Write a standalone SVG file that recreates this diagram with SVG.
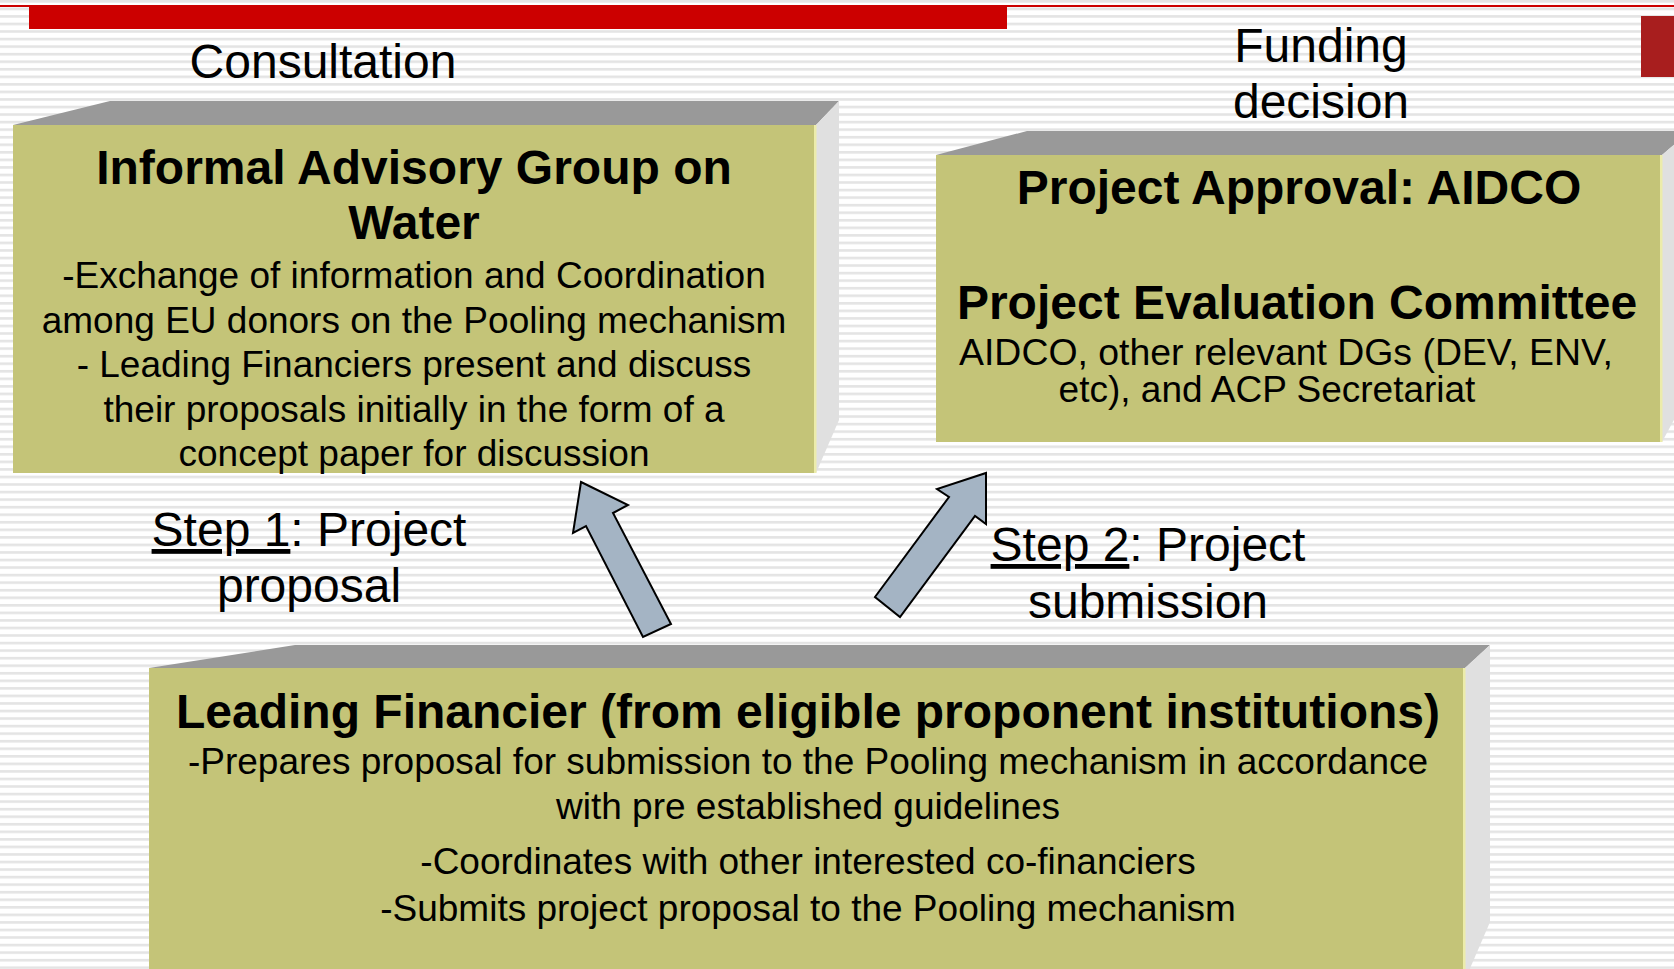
<svg xmlns="http://www.w3.org/2000/svg" width="1674" height="969" viewBox="0 0 1674 969">
<defs>
<pattern id="stripes" patternUnits="userSpaceOnUse" width="20" height="7.55">
<rect x="0" y="0" width="20" height="7.55" fill="#ffffff"/>
<rect x="0" y="0" width="20" height="2.6" fill="#e4e4e4"/>
</pattern>
</defs>
<style>
text{font-family:"Liberation Sans",Arial,sans-serif;fill:#000;}
.hdr{font-size:48px;text-anchor:middle;}
.ttl{font-size:48px;font-weight:bold;text-anchor:middle;}
.body{font-size:37px;text-anchor:middle;}
.front{fill:#c4c478;}
.top{fill:#999999;}
.side{fill:#e0e0e0;}
.edge{fill:#ececaa;}
.arrow{fill:#a4b4c4;stroke:#000;stroke-width:2;stroke-linejoin:miter;}
</style>
<rect x="0" y="0" width="1674" height="969" fill="url(#stripes)"/>
<rect x="0" y="5" width="1674" height="2" fill="#cc0000"/>
<rect x="29" y="6" width="978" height="23" fill="#cc0000"/>
<rect x="1641" y="16" width="33" height="61" fill="#a81e1e"/>

<g id="label-consultation">
<text class="hdr" x="323" y="78">Consultation</text>
</g>
<g id="label-funding">
<text class="hdr" x="1321" y="62">Funding</text>
<text class="hdr" x="1321" y="118">decision</text>
</g>

<g id="node-advisory">
<polygon class="top" points="13,125 110,101 839,101 816,125"/>
<polygon class="side" points="816,125 839,101 839,420 816,473"/>
<rect class="front" x="13" y="125" width="803" height="348"/>
<rect class="edge" x="814" y="125" width="2.5" height="348"/>
<text class="ttl" x="414" y="184">Informal Advisory Group on</text>
<text class="ttl" x="414" y="239">Water</text>
<text class="body" x="414" y="288">-Exchange of information and Coordination</text>
<text class="body" x="414" y="333">among EU donors on the Pooling mechanism</text>
<text class="body" x="414" y="377">- Leading Financiers present and discuss</text>
<text class="body" x="414" y="422">their proposals initially in the form of a</text>
<text class="body" x="414" y="466">concept paper for discussion</text>
</g>

<g id="node-approval">
<polygon class="top" points="936,155 1027,131 1690,131 1662,155"/>
<polygon class="side" points="1662,155 1690,131 1690,390 1662,442"/>
<rect class="front" x="936" y="155" width="726" height="287"/>
<rect class="edge" x="1660" y="155" width="2.5" height="287"/>
<text class="ttl" x="1299" y="204">Project Approval: AIDCO</text>
<text class="ttl" x="1297" y="319">Project Evaluation Committee</text>
<text class="body" x="1286" y="365" style="font-size:37.4px">AIDCO, other relevant DGs (DEV, ENV,</text>
<text class="body" x="1267" y="402">etc), and ACP Secretariat</text>
</g>

<g id="node-financier">
<polygon class="top" points="149,668 295,645 1490,645 1465,668"/>
<polygon class="side" points="1465,668 1490,645 1490,922 1465,980"/>
<rect class="front" x="149" y="668" width="1316" height="301"/>
<rect class="edge" x="1463" y="668" width="2.5" height="301"/>
<text class="ttl" x="808" y="728">Leading Financier (from eligible proponent institutions)</text>
<text class="body" x="808" y="774">-Prepares proposal for submission to the Pooling mechanism in accordance</text>
<text class="body" x="808" y="819">with pre established guidelines</text>
<text class="body" x="808" y="874">-Coordinates with other interested co-financiers</text>
<text class="body" x="808" y="921">-Submits project proposal to the Pooling mechanism</text>
</g>

<g id="label-step1">
<text class="hdr" x="309" y="546"><tspan text-decoration="underline">Step 1</tspan>: Project</text>
<text class="hdr" x="309" y="602">proposal</text>
</g>
<g id="label-step2">
<text class="hdr" x="1148" y="561"><tspan text-decoration="underline">Step 2</tspan>: Project</text>
<text class="hdr" x="1148" y="618">submission</text>
</g>

<g id="connectors">
<polygon class="arrow" points="581,482 628,505 613,513 671,624 643,637 586,526 573,533"/>
<polygon class="arrow" points="986,473 986,524 975,516 900,617 875,597 949,497 937,489"/>
</g>
</svg>
